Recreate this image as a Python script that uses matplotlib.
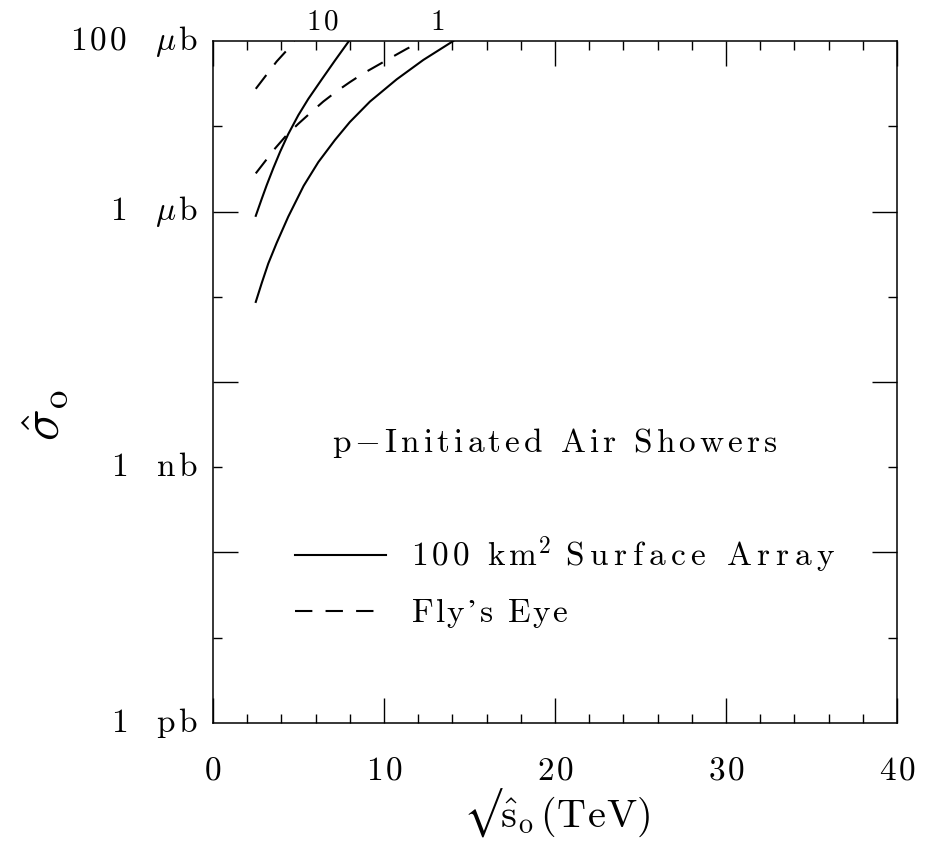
import matplotlib
matplotlib.use("Agg")
import matplotlib.pyplot as plt
import matplotlib.transforms as mtransforms
from matplotlib.ticker import FixedLocator, NullFormatter

plt.rcParams['mathtext.fontset'] = 'cm'
plt.rcParams['font.family'] = ['cmr10', 'DejaVu Serif']
plt.rcParams['axes.formatter.use_mathtext'] = True
plt.rcParams['lines.scale_dashes'] = False

# sqrt(s_hat_0) in TeV, sigma_hat_0 in pb
surf_1_x = [2.5, 2.85, 3.23, 3.72, 4.4, 5.3, 6.16, 7.13, 8.0, 9.18, 10.74, 12.3, 14.05]
surf_1_y = [8.7e4, 1.45e5, 2.45e5, 4.27e5, 8.7e5, 2.0e6, 3.8e6, 6.9e6, 1.12e7,
            1.95e7, 3.55e7, 6.0e7, 1.0e8]

surf_10_x = [2.5, 2.85, 3.14, 3.53, 3.92, 4.4, 4.99, 5.57, 6.36, 7.13, 7.95]
surf_10_y = [8.9e5, 1.41e6, 2.04e6, 3.24e6, 5.0e6, 8.1e6, 1.35e7, 2.09e7, 3.55e7, 5.9e7, 1.0e8]

fly_1_x = [2.5, 3.63, 4.31, 4.99, 5.77, 6.45, 7.23, 8.01, 8.79, 9.67, 10.54, 11.33, 12.15]
fly_1_y = [2.8e6, 5.5e6, 7.9e6, 1.07e7, 1.48e7, 1.95e7, 2.57e7, 3.3e7, 4.17e7,
           5.25e7, 6.6e7, 8.1e7, 9.8e7]

fly_10_x = [2.5, 3.72, 4.31, 4.75]
fly_10_y = [2.75e7, 5.75e7, 7.76e7, 1.0e8]

# curve tags written above the frame
tag_labels = ['10', '1']
tag_x = [6.4, 13.1]

ytick_vals = [1, 1e3, 1e6, 1e8]
ytick_num = ['1', '1', '1', '100']
ytick_unit = ['pb', 'nb', 'b', 'b']
ytick_mu = [False, False, True, True]


def tracked(s, gap=0.1):
    """letters in roman with a little extra spacing between them"""
    out = []
    for ch in s:
        out.append(r'\ ' if ch == ' ' else r'\mathrm{%s}' % ch)
    return (r'\hspace{%g}' % gap).join(out)


fig = plt.figure(figsize=(9.27, 8.44), dpi=100)
ax = fig.add_axes([0.2298, 0.1434, 0.7378, 0.8080])

dash = (0, (12.5, 9.5))
lw = 1.5
surf_label = '$' + tracked('100 km', 0.14) + r'^{2}\hspace{0.14}\ ' + tracked('Surface Array', 0.19) + '$'
fly_label = '$' + tracked('Fly’s Eye', 0.08) + '$'
ax.plot(surf_1_x, surf_1_y, color='k', lw=lw, label=surf_label)
ax.plot(surf_10_x, surf_10_y, color='k', lw=lw)
ax.plot(fly_1_x, fly_1_y, color='k', lw=lw, ls=dash, label=fly_label)
ax.plot(fly_10_x, fly_10_y, color='k', lw=lw, ls=dash)

ax.set_yscale('log')
ax.set_xlim(0, 40)
ax.set_ylim(1, 1e8)

# ticks
ax.xaxis.set_major_locator(FixedLocator([0, 10, 20, 30, 40]))
ax.xaxis.set_minor_locator(FixedLocator([x for x in range(2, 40, 2) if x % 10]))
ax.yaxis.set_major_locator(FixedLocator([1e2, 1e4, 1e6]))
ax.yaxis.set_minor_locator(FixedLocator([1e1, 1e3, 1e5, 1e7]))
ax.yaxis.set_major_formatter(NullFormatter())
ax.yaxis.set_minor_formatter(NullFormatter())
ax.tick_params(which='both', direction='in', top=True, right=True, width=1.0)
ax.tick_params(which='major', length=18)
ax.tick_params(which='minor', length=6.5)
ax.tick_params(axis='x', which='major', labelsize=24, pad=24)
for sp in ax.spines.values():
    sp.set_linewidth(1.1)
ax.set_xticklabels(['$' + tracked(str(v)) + '$' for v in [0, 10, 20, 30, 40]])

# y tick labels (not on the long ticks, as in the original)
ytrans = mtransforms.blended_transform_factory(ax.transAxes, ax.transData)
for v, n, u, mu in zip(ytick_vals, ytick_num, ytick_unit, ytick_mu):
    t = '$' + tracked(n) + r'\ \ \ ' + (r'\mu\hspace{0.1}' if mu else '') + tracked(u) + '$'
    ax.text(-0.022, v, t, transform=ytrans, ha='right', va='center', fontsize=24)

xtrans = mtransforms.blended_transform_factory(ax.transData, ax.transAxes)
for lab, x in zip(tag_labels, tag_x):
    ax.text(x, 1.008, '$' + tracked(lab) + '$', transform=xtrans, ha='center', va='bottom',
            fontsize=21)

fig.text(0.601, 0.020,
         r'$\mathrm{√}\hat{\mathrm{s}}_\mathrm{o}\,(\mathrm{T}\hspace{0.05}\mathrm{e}\hspace{0.05}\mathrm{V})$',
         fontsize=29, ha='center', va='baseline')
fig.text(0.05, 0.508, r'$\hat{\sigma}_\mathrm{o}$', rotation=90, fontsize=38, ha='center', va='center')

ax.text(0.5, 0.41, '$' + tracked('p', 0.14) + r'\hspace{0.14}{-}\hspace{0.14}'
        + tracked('Initiated Air Showers', 0.14) + '$', transform=ax.transAxes,
        ha='center', va='center', fontsize=24)

ax.legend(loc='upper left', bbox_to_anchor=(0.095, 0.30), frameon=False, fontsize=24,
          handlelength=2.75, handletextpad=0.75, labelspacing=0.6, borderpad=0)

fig.savefig('out.png', dpi=100)
